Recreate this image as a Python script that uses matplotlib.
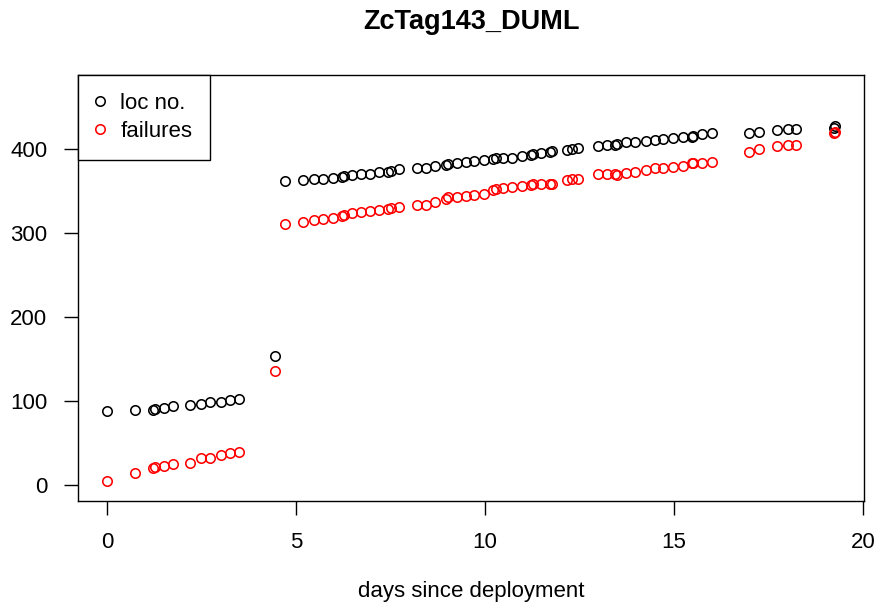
import matplotlib
matplotlib.use("Agg")
import matplotlib.pyplot as plt
import numpy as np

plt.rcParams["font.family"] = ["Liberation Sans", "DejaVu Sans"]

# days since deployment for each location record
days = [0, 0.73, 1.21, 1.27, 1.49, 1.74, 2.2, 2.48, 2.71, 3.01, 3.24, 3.5,
        4.44,
        4.71, 5.18, 5.48, 5.70, 5.97, 6.21, 6.27, 6.47, 6.71, 6.96,
        7.20, 7.44, 7.51, 7.71, 8.19, 8.44, 8.68, 8.96, 9.03, 9.25,
        9.49, 9.72, 9.96, 10.22, 10.28, 10.47, 10.72, 10.97, 11.21, 11.28,
        11.48, 11.72, 11.76,
        12.18, 12.29, 12.47, 13.0, 13.22, 13.44, 13.5, 13.72, 13.97, 14.26,
        14.5, 14.72, 14.98, 15.25, 15.47, 15.51, 15.73, 16.0, 16.98, 17.26,
        17.74, 18.01, 18.23, 19.23, 19.25]

loc_no = [88, 89, 90, 91, 92, 94, 96, 97, 98.5, 99.5, 101, 103,
          154,
          362, 363, 364, 364.5, 366, 367, 368, 369, 370, 371,
          372.5, 373, 374, 376, 377, 378, 380, 381, 382, 384,
          385, 386, 387, 388, 389, 389.5, 390, 392, 393, 394,
          396, 397, 398,
          399, 400, 401.5, 403.5, 404.5, 405.5, 406.5, 408, 409, 410,
          411, 412, 413, 414, 415, 416, 418, 419, 419.5, 420,
          422.5, 423.5, 424.5, 425, 427]

failures = [5, 15, 20, 22, 23, 25, 26.5, 32, 32, 36, 38, 40,
            136,
            310.5, 313.5, 316, 317, 318.5, 320.5, 322, 323.5, 325.5, 326.5,
            327.5, 328.5, 330, 331.5, 333.5, 333.5, 337, 341, 342.5, 343,
            344.5, 346, 347, 351, 353, 353.5, 355, 356, 357, 358,
            358, 358.5, 358.5,
            363, 364, 364, 370, 370, 370, 369.5, 372, 373, 375,
            377, 378, 379, 380, 383, 384, 384, 385, 397, 400,
            403.5, 405, 405.5, 419, 421]

W, H = 880, 611
fig = plt.figure(figsize=(W / 100, H / 100), dpi=100)
ax = fig.add_axes([78 / W, 1 - 501 / H, (864 - 78) / W, (501 - 75) / H])

mk = dict(linestyle="none", marker="o", markersize=6.8, markerfacecolor="none",
          markeredgewidth=1.15)
ax.plot(days, loc_no, markeredgecolor="black", label="loc no.", **mk)
ax.plot(days, failures, markeredgecolor="red", label="failures", **mk)

ax.set_xlim(-0.774, 20.03)
ax.set_ylim(-18.8, 488.3)
ax.set_xticks([0, 5, 10, 15, 20])
ax.set_yticks([0, 100, 200, 300, 400])
ax.tick_params(direction="out", length=10, width=1, labelsize=16, pad=12)
for s in ax.spines.values():
    s.set_linewidth(1)

leg = ax.legend(loc="upper left", bbox_to_anchor=(0, 1), borderaxespad=0,
                fontsize=16, fancybox=False, edgecolor="black", framealpha=1,
                handlelength=0.4, handletextpad=0.7, borderpad=0.8,
                labelspacing=0.32)
leg.get_frame().set_linewidth(1)

fig.text(471 / W, 1 - 22 / H, "ZcTag143_DUML", ha="center", va="center",
         fontsize=19.5, fontweight="bold")
fig.text(471 / W, 1 - 591 / H, "days since deployment", ha="center",
         va="center", fontsize=16)

fig.savefig("out.png", dpi=100, facecolor="white")
